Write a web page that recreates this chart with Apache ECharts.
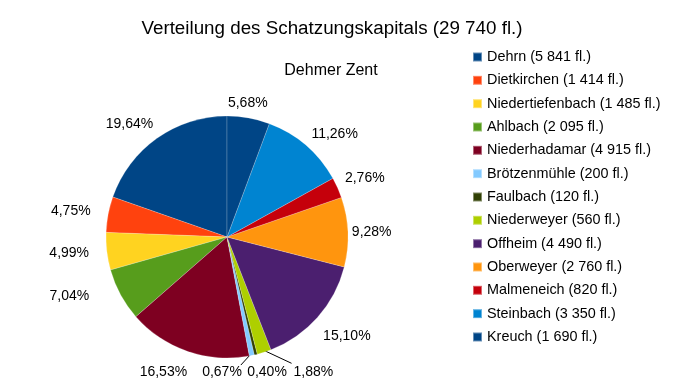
<!DOCTYPE html>
<html><head><meta charset="utf-8">
<script src="https://cdn.jsdelivr.net/npm/echarts@6/dist/echarts.min.js"></script>
<style>html,body{margin:0;padding:0;background:#fff}#c{width:676px;height:390px}</style>
</head><body><div id="c"></div>
<script>
const categories = ["Dehrn","Dietkirchen","Niedertiefenbach","Ahlbach","Niederhadamar","Brötzenmühle","Faulbach","Niederweyer","Offheim","Oberweyer","Malmeneich","Steinbach","Kreuch"];
const values = [5841,1414,1485,2095,4915,200,120,560,4490,2760,820,3350,1690];
const colors = ["#004586","#ff420e","#ffd320","#579d1c","#7e0021","#83caff","#314004","#aecf00","#4b1f6f","#ff950e","#c5000b","#0084d1","#004586"];
const titleText = "Verteilung des Schatzungskapitals (29 740 fl.)";
const subtitleText = "Dehmer Zent";
// label nudges (pixels) relative to the generic outside placement
const labelNudge = [[0,0],[0,0],[0,0],[-17,-7],[-5,5],[-36,0],[4,1],[40,4],[4,8],[-6,1],[0,-3],[7,2],[-6,2]];
const leaderIdx = [5,7];

const CX = 227, CY = 237, R = 121, GAP = 10;
const total = values.reduce((a,b)=>a+b,0);
const fmtNum = v => String(v).replace(/\B(?=(\d{3})+(?!\d))/g, " ");
const legendNames = categories.map((c,i)=>c+" ("+fmtNum(values[i])+" fl.)");
const font = "'Liberation Sans', Arial, sans-serif";

// mid-angle directions (counter-clockwise from top)
const dirs = [];
let acc = 0;
values.forEach(v => {
  const a0 = acc / total * 2 * Math.PI; acc += v;
  const a1 = acc / total * 2 * Math.PI;
  const m = (a0 + a1) / 2;
  dirs.push([-Math.sin(m), -Math.cos(m)]);
});

const chart = echarts.init(document.getElementById('c'), null, {renderer:'canvas'});
chart.setOption({
  animation:false,
  color: colors,
  title:[
    {text:titleText, left:327, top:14, textAlign:'center', textStyle:{fontFamily:font, fontSize:18.8, fontWeight:'normal', color:'#000'}},
    {text:subtitleText, left:326, top:58, textAlign:'center', textStyle:{fontFamily:font, fontSize:16, fontWeight:'normal', color:'#000'}}
  ],
  legend:{
    orient:'vertical', left:467, top:45, itemWidth:9, itemHeight:9, itemGap:9.33,
    icon:'rect',
    textStyle:{fontFamily:font, fontSize:14.4, color:'#000'},
    data: legendNames
  },
  series:[{
    type:'pie',
    center:[CX,CY],
    radius:[0,R],
    startAngle:90,
    clockwise:false,
    minAngle:0,
    avoidLabelOverlap:false,
    itemStyle:{borderWidth:0.5, borderColor:'rgba(255,255,255,0.4)'},
    label:{
      show:true, position:'outside', fontFamily:font, fontSize:14, color:'#000',
      formatter: p => (p.value/total*100).toFixed(2).replace('.',',')+'%'
    },
    labelLine:{show:false, length:6, length2:0},
    labelLayout: function(p){
      const i = p.dataIndex;
      const d = dirs[i];
      const w = p.labelRect.width;
      let x = CX + (R+GAP)*d[0] + w/2*d[0];
      let y = CY + (R+GAP)*d[1] + 14/2*d[1];
      if (d[0] < 0) x -= 8;
      x += labelNudge[i][0]; y += labelNudge[i][1];
      const out = {x:x, y:y, align:'center', verticalAlign:'middle', hideOverlap:false};
      if (leaderIdx.indexOf(i) >= 0) {
        const ex = CX + (R-2)*d[0], ey = CY + (R-2)*d[1];
        const lx = d[0] < 0 || labelNudge[i][0] < 0 ? x + w/2 - 1 : x - w/2 - 2;
        const ly = labelNudge[i][0] < 0 ? y - 7 : y - 9;
        out.labelLinePoints = [[ex,ey],[lx,ly]];
      }
      return out;
    },
    data: categories.map((c,i)=>{
      const d = {name:legendNames[i], value:values[i]};
      if (leaderIdx.indexOf(i) >= 0) d.labelLine = {show:true, length:1, length2:1, lineStyle:{color:'#000', width:1}};
      return d;
    })
  }]
});
</script></body></html>
